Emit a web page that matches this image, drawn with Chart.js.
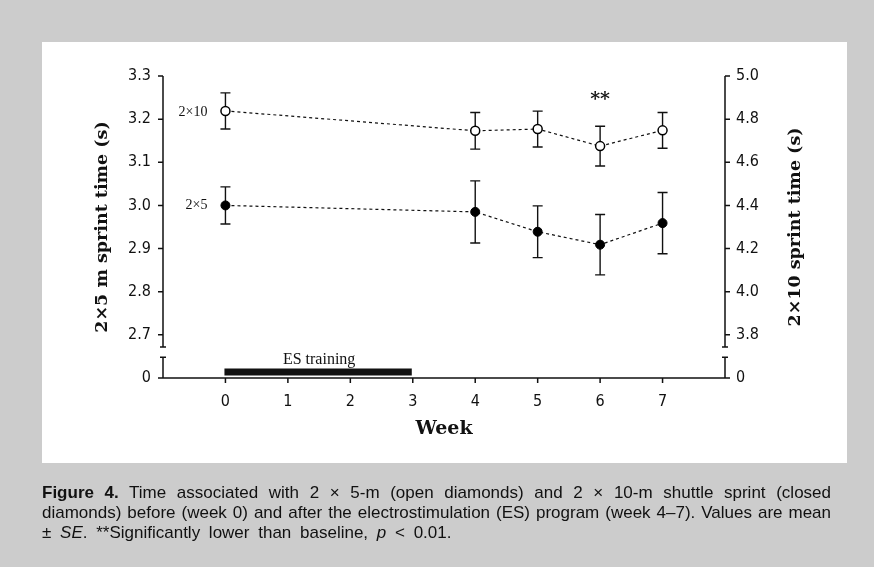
<!DOCTYPE html>
<html>
<head>
<meta charset="utf-8">
<script src="https://cdn.jsdelivr.net/npm/chart.js@4.4.1/dist/chart.umd.min.js"></script>
<style>
  html, body { margin: 0; padding: 0; }
  body { width: 874px; height: 567px; background: #cccccc; position: relative; overflow: hidden; }
  #panel { position: absolute; left: 42px; top: 42px; width: 805px; height: 421px; background: #fff; }
  #wrap { position: absolute; left: 0; top: 0; width: 874px; height: 567px; }
  #caption { position: absolute; left: 42px; top: 483px; width: 789px; font: 17px 'Liberation Sans', Arial, sans-serif;
             line-height: 20px; color: #111; white-space: nowrap; }
  #caption .j { text-align: justify; text-align-last: justify; white-space: normal; }
  #caption .last { word-spacing: 4px; }
</style>
</head>
<body>
<div id="panel"></div>
<div id="wrap"><canvas id="sprintChart" width="874" height="567"></canvas></div>
<div id="caption">
  <div class="j"><b>Figure 4.</b> Time associated with 2 &times; 5-m (open diamonds) and 2 &times; 10-m shuttle sprint (closed</div>
  <div class="j">diamonds) before (week 0) and after the electrostimulation (ES) program (week 4&ndash;7). Values are mean</div>
  <div class="last">&plusmn; <i>SE</i>. **Significantly lower than baseline, <i>p</i> &lt; 0.01.</div>
</div>
<script>
// values
const weeks = [0, 4, 5, 6, 7];
const sprint5 = [3.000, 2.985, 2.939, 2.909, 2.959];     // 2x5 m, left axis
const sprint5Se = [0.043, 0.072, 0.060, 0.070, 0.071];
const sprint10 = [4.838, 4.746, 4.754, 4.675, 4.748];    // 2x10, right axis
const sprint10Se = [0.084, 0.085, 0.083, 0.092, 0.083];

const weekTicks = [0, 1, 2, 3, 4, 5, 6, 7];
const leftTicks = [2.7, 2.8, 2.9, 3.0, 3.1, 3.2, 3.3];
const rightTicks = [3.8, 4.0, 4.2, 4.4, 4.6, 4.8, 5.0];
const esWeeks = [0, 3];      // ES training period
const sigWeek = 6;           // ** marker

// broken axes: the "0" of each axis is drawn below the break
const leftZero = 2.6;
const rightZero = 3.6;
const breakHi = 2.672;
const breakLo = 2.648;

const ink = '#111';
const tickFont = { family: "'DejaVu Sans Condensed', 'Liberation Sans', sans-serif", size: 16 };
const serif = "'DejaVu Serif', 'Liberation Serif', serif";

const drawExtras = {
  id: 'drawExtras',
  beforeDatasetsDraw(chart) {
    const ctx = chart.ctx;
    const xs = chart.scales.x, yl = chart.scales.y, yr = chart.scales.y1;
    const area = chart.chartArea;
    ctx.save();
    ctx.strokeStyle = ink;
    ctx.fillStyle = ink;
    ctx.lineWidth = 1.5;

    const zeroY = area.bottom;
    const hiY = yl.getPixelForValue(breakHi);
    const loY = yl.getPixelForValue(breakLo);

    // left and right broken axes
    [[area.left, -1, yl, leftTicks, yl.max], [area.right, 1, yr, rightTicks, yr.max]].forEach(([ax, dir, sc, ticks, top]) => {
      ctx.beginPath();
      ctx.moveTo(ax, sc.getPixelForValue(top));
      ctx.lineTo(ax, hiY);
      ctx.moveTo(ax - 3, hiY); ctx.lineTo(ax + 3, hiY);
      ctx.moveTo(ax - 3, loY); ctx.lineTo(ax + 3, loY);
      ctx.moveTo(ax, loY);
      ctx.lineTo(ax, zeroY);
      ticks.forEach(t => {
        const y = sc.getPixelForValue(t);
        ctx.moveTo(ax, y); ctx.lineTo(ax + dir * 5, y);
      });
      ctx.moveTo(ax, zeroY); ctx.lineTo(ax + dir * 5, zeroY);
      ctx.stroke();
    });

    // week axis along zero
    ctx.beginPath();
    ctx.moveTo(area.left, zeroY);
    ctx.lineTo(area.right, zeroY);
    weekTicks.forEach(w => {
      const x = xs.getPixelForValue(w);
      ctx.moveTo(x, zeroY); ctx.lineTo(x, zeroY + 5);
    });
    ctx.stroke();

    // ES training bar
    const x0 = xs.getPixelForValue(esWeeks[0]), x1 = xs.getPixelForValue(esWeeks[1]);
    ctx.fillRect(x0 - 1, zeroY - 9.5, x1 - x0, 7);
    ctx.font = '16px ' + "'Liberation Serif', serif";
    ctx.textAlign = 'center';
    ctx.textBaseline = 'middle';
    ctx.fillText('ES training', (x0 + x1) / 2, zeroY - 18);

    // error bars
    ctx.lineWidth = 1.4;
    const bars = (vals, ses, sc) => {
      ctx.beginPath();
      weeks.forEach((w, i) => {
        const x = xs.getPixelForValue(w);
        const yTop = sc.getPixelForValue(vals[i] + ses[i]);
        const yBot = sc.getPixelForValue(vals[i] - ses[i]);
        ctx.moveTo(x, yTop); ctx.lineTo(x, yBot);
        ctx.moveTo(x - 5, yTop); ctx.lineTo(x + 5, yTop);
        ctx.moveTo(x - 5, yBot); ctx.lineTo(x + 5, yBot);
      });
      ctx.stroke();
    };
    bars(sprint5, sprint5Se, yl);
    bars(sprint10, sprint10Se, yr);

    // series labels next to week 0
    ctx.font = '14px ' + "'Liberation Serif', serif";
    ctx.textAlign = 'right';
    const wx = xs.getPixelForValue(weeks[0]) - 18;
    ctx.fillText('2\u00d710', wx, yr.getPixelForValue(sprint10[0]) + 1);
    ctx.fillText('2\u00d75', wx, yl.getPixelForValue(sprint5[0]));

    // significance
    ctx.font = 'bold 19px ' + serif;
    ctx.textAlign = 'center';
    ctx.fillText('**', xs.getPixelForValue(sigWeek), area.top + 24);

    // right axis title, reading upwards like the left one
    ctx.font = 'bold 17.5px ' + serif;
    ctx.translate(795, (area.top + area.bottom) / 2);
    ctx.rotate(-Math.PI / 2);
    ctx.fillText('2\u00d710 sprint time (s)', 0, 0);
    ctx.restore();
  }
};

new Chart(document.getElementById('sprintChart'), {
  type: 'line',
  data: {
    datasets: [
      {
        label: '2x5 m',
        data: weeks.map((w, i) => ({ x: w, y: sprint5[i] })),
        yAxisID: 'y',
        borderColor: ink,
        borderWidth: 1.2,
        borderDash: [3, 3],
        pointRadius: 4.5,
        pointBackgroundColor: '#000',
        pointBorderColor: '#000',
        pointBorderWidth: 1
      },
      {
        label: '2x10 m',
        data: weeks.map((w, i) => ({ x: w, y: sprint10[i] })),
        yAxisID: 'y1',
        borderColor: ink,
        borderWidth: 1.2,
        borderDash: [3, 3],
        pointRadius: 4.5,
        pointBackgroundColor: '#fff',
        pointBorderColor: '#000',
        pointBorderWidth: 1.5
      }
    ]
  },
  options: {
    responsive: false,
    animation: false,
    layout: { padding: { left: 87.5, right: 64.5, top: 76, bottom: 123 } },
    plugins: { legend: { display: false }, tooltip: { enabled: false } },
    scales: {
      x: {
        type: 'linear',
        min: -1,
        max: 8,
        afterBuildTicks: s => { s.ticks = weekTicks.map(v => ({ value: v })); },
        afterFit: s => { s.height = 66; },
        ticks: { font: tickFont, color: ink, padding: 14, maxRotation: 0, autoSkip: false },
        grid: { display: false, drawTicks: false },
        border: { display: false },
        title: { display: true, text: 'Week', color: ink, font: { family: serif, size: 19, weight: 'bold' } }
      },
      y: {
        type: 'linear',
        position: 'left',
        min: leftZero,
        max: 3.3,
        afterBuildTicks: s => { s.ticks = [leftZero, ...leftTicks].map(v => ({ value: v })); },
        afterFit: s => { s.width = 75.5; },
        ticks: { font: tickFont, color: ink, padding: 12, callback: v => v === leftZero ? '0' : v.toFixed(1) },
        grid: { display: false, drawTicks: false },
        border: { display: false },
        title: { display: true, text: '2\u00d75 m sprint time (s)', color: ink, font: { family: serif, size: 17.5, weight: 'bold' } }
      },
      y1: {
        type: 'linear',
        position: 'right',
        min: rightZero,
        max: 5.0,
        afterBuildTicks: s => { s.ticks = [rightZero, ...rightTicks].map(v => ({ value: v })); },
        afterFit: s => { s.width = 84.5; },
        ticks: { font: tickFont, color: ink, padding: 11, callback: v => v === rightZero ? '0' : v.toFixed(1) },
        grid: { display: false, drawTicks: false },
        border: { display: false }
      }
    }
  },
  plugins: [drawExtras]
});
</script>
</body>
</html>
